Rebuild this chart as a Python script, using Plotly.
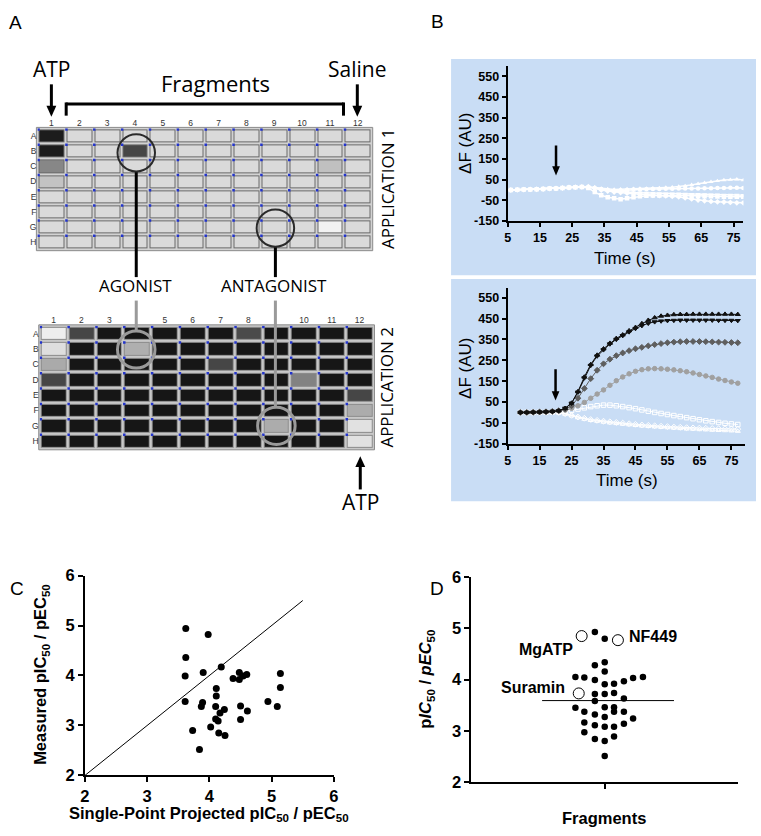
import plotly.graph_objects as go
import numpy as np

W, H = 761, 836


def fx(p):
    return p / W


def fy(p):
    return 1 - p / H


def dom_x(a, b):
    return [a / W, b / W]


def dom_y(top, bottom):
    return [1 - bottom / H, 1 - top / H]


ARIAL = "Liberation Sans"
MYRIAD = "Open Sans"

# ---------------- Panel A : plate read-outs (well brightness 0-255) ----------------
plate_cols = [1, 2, 3, 4, 5, 6, 7, 8, 9, 10, 11, 12]
plate_rows = ["A", "B", "C", "D", "E", "F", "G", "H"]
plate1_label_cols = [1, 2, 3, 4, 5, 6, 7, 8, 9, 10, 11, 12]
plate2_label_cols = [1, 2, 3, 5, 6, 7, 8, 10, 11, 12]

plate1_signal = [
    [28, 218, 218, 218, 218, 218, 218, 218, 218, 218, 218, 218],
    [28, 218, 218, 70, 218, 218, 218, 218, 218, 218, 218, 218],
    [135, 218, 218, 218, 218, 218, 218, 218, 218, 218, 192, 218],
    [195, 218, 218, 218, 218, 218, 218, 218, 218, 218, 218, 218],
    [218, 218, 218, 218, 218, 218, 218, 218, 218, 218, 218, 218],
    [218, 218, 218, 218, 218, 218, 218, 218, 218, 218, 218, 218],
    [218, 218, 218, 218, 218, 218, 218, 218, 218, 218, 242, 218],
    [218, 218, 218, 218, 218, 218, 218, 218, 218, 218, 218, 218],
]
plate2_signal = [
    [238, 70, 22, 22, 22, 22, 22, 75, 22, 22, 22, 22],
    [222, 22, 22, 175, 22, 22, 22, 22, 22, 22, 22, 22],
    [170, 22, 22, 22, 22, 22, 70, 22, 22, 22, 22, 22],
    [70, 22, 22, 22, 22, 22, 22, 22, 22, 130, 22, 22],
    [22, 22, 22, 22, 22, 22, 22, 22, 22, 22, 22, 70],
    [22, 22, 22, 22, 22, 22, 22, 22, 22, 22, 22, 172],
    [22, 22, 22, 22, 22, 22, 22, 22, 172, 22, 22, 225],
    [22, 22, 22, 22, 22, 22, 22, 22, 22, 22, 22, 225],
]

# ---------------- Panel B : fluorescence traces ----------------
time_app1 = [6, 8, 10, 12, 14, 16, 18, 20, 22, 24, 26, 28, 30, 32, 34, 36, 38, 40, 42,
             44, 46, 48, 50, 52, 54, 56, 58, 60, 62, 64, 66, 68, 70, 72, 74, 76, 78]
app1_well1 = [0, 1, 2, 3, 4, 5, 7, 8, 10, 12, 14, 15, 15, 12, 8, 5, 3, 4, 5, 6,
              7, 8, 9, 10, 12, 14, 17, 20, 25, 30, 35, 40, 44, 48, 50, 52, 48]
app1_well2 = [0, 1, 2, 3, 4, 5, 7, 8, 10, 12, 14, 15, 14, 10, 5, 0, -3, -2, 0, 2,
              3, 4, 5, 5, 6, 6, 7, 7, 8, 8, 9, 9, 10, 10, 11, 11, 10]
app1_well3 = [0, 1, 2, 3, 4, 5, 7, 8, 10, 12, 14, 15, 10, -10, -25, -35, -40, -45, -40, -35,
              -30, -28, -27, -26, -25, -25, -26, -27, -28, -29, -30, -30, -31, -32, -32, -33, -32]
app1_well4 = [0, 1, 2, 3, 4, 5, 7, 8, 10, 12, 14, 15, 16, 10, 0, -5, -10, -12, -15, -18,
              -20, -22, -25, -27, -28, -30, -33, -38, -43, -48, -52, -55, -57, -58, -60, -62, -62]
app1_well5 = [0, 1, 2, 3, 4, 5, 7, 8, 10, 12, 14, 16, 15, 8, 2, -2, -5, -8, -10, -12,
              -13, -14, -15, -16, -17, -17, -18, -19, -20, -20, -21, -22, -22, -23, -23, -24, -25]

time_app2 = [9, 11, 13, 15, 17, 19, 21, 23, 25, 27, 29, 31, 33, 35, 37, 39, 41, 43,
             45, 47, 49, 51, 53, 55, 57, 59, 61, 63, 65, 67, 69, 71, 73, 75, 77]
app2_full1 = [0, 0, 1, 2, 3, 5, 8, 20, 45, 100, 170, 230, 275, 305, 332, 355, 372, 392,
              408, 426, 442, 454, 462, 466, 469, 470, 470, 471, 471, 471, 471, 471, 471, 471, 470]
app2_full2 = [0, 0, 1, 2, 3, 5, 8, 20, 44, 97, 165, 225, 270, 300, 328, 350, 368, 386,
              402, 416, 427, 434, 438, 440, 441, 442, 442, 442, 442, 442, 442, 441, 441, 441, 440]
app2_partial = [0, 0, 1, 2, 3, 5, 8, 15, 32, 68, 115, 162, 202, 233, 255, 272, 285, 296,
                305, 312, 319, 325, 330, 334, 337, 339, 340, 340, 340, 339, 338, 337, 336, 335, 334]
app2_weak = [0, 0, 1, 2, 3, 5, 8, 12, 20, 32, 48, 68, 88, 108, 130, 152, 170, 185,
             197, 205, 209, 210, 209, 207, 204, 200, 195, 189, 182, 175, 168, 160, 153, 146, 140]
app2_blocked1 = [0, 0, 0, 1, 1, 2, 2, 5, 10, 16, 22, 28, 32, 35, 35, 32, 28, 23,
                 18, 12, 6, 0, -5, -10, -15, -20, -25, -30, -35, -40, -44, -48, -52, -55, -58]
app2_blocked2 = [0, 0, 0, 1, 1, 2, 0, -6, -14, -22, -28, -34, -38, -42, -45, -48, -51, -54,
                 -57, -60, -62, -64, -66, -68, -70, -71, -73, -74, -75, -76, -77, -78, -78, -79, -80]
app2_blocked3 = [0, 0, 0, 1, 1, 2, 0, -8, -16, -25, -32, -38, -42, -46, -50, -53, -56, -59,
                 -62, -65, -67, -69, -71, -73, -75, -77, -79, -80, -82, -83, -85, -86, -87, -88, -90]
injection_time = [20]
arrow_app1 = [215, 70]
arrow_app2 = [207, 57]
b_xticks = [5, 15, 25, 35, 45, 55, 65, 75]
b_yticks = [-150, -50, 50, 150, 250, 350, 450, 550]

# ---------------- Panel C : projected vs measured ----------------
projected = [3.62, 3.98, 3.62, 3.61, 3.90, 4.19, 3.61, 4.11, 4.11, 3.89, 3.87, 4.10,
             4.24, 4.17, 4.10, 4.14, 4.02, 3.73, 4.15, 4.25, 3.84, 4.38, 4.48, 4.48,
             4.54, 4.60, 4.50, 4.50, 4.61, 4.94, 5.09, 5.14, 5.14]
measured = [4.94, 4.82, 4.36, 3.99, 4.06, 4.17, 3.48, 3.74, 3.59, 3.46, 3.38, 3.38,
            3.32, 3.25, 3.13, 3.09, 2.97, 2.90, 2.85, 2.80, 2.52, 3.94, 4.06, 3.92,
            3.99, 4.02, 3.39, 3.12, 3.29, 3.48, 3.38, 4.04, 3.76]
identity_x = [2, 5.5]
identity_y = [2, 5.5]
cd_ticks = [2, 3, 4, 5, 6]

# ---------------- Panel D : fragment potencies ----------------
frag_x = [-0.074, 0, -0.074, 0, 0, -0.22, -0.153, -0.074, 0, 0.07, 0.144, 0.213, 0.287,
          -0.074, 0, 0.07, 0.144, -0.074, -0.22, 0, 0.07, 0.07, -0.153, 0.144, -0.074,
          0, 0.213, -0.153, -0.074, 0, 0.07, 0.144, -0.153, -0.074, 0.07, 0, 0]
frag_y = [4.93, 4.80, 4.28, 4.34, 4.16, 4.05, 4.04, 3.99, 3.91, 3.92, 3.97, 4.03, 4.05,
          3.72, 3.72, 3.74, 3.63, 3.58, 3.45, 3.46, 3.46, 3.37, 3.37, 3.37, 3.32,
          3.27, 3.24, 3.16, 3.11, 3.08, 3.08, 3.14, 2.97, 2.84, 2.89, 2.80, 2.51]
ref_names = ["MgATP", "NF449", "Suramin"]
ref_x = [-0.173, 0.099, -0.195]
ref_y = [4.85, 4.77, 3.73]
mean_x = [-0.47, 0.52]
mean_y = [3.59, 3.59]


def bold(vals):
    return ["<b>" + str(v) + "</b>" for v in vals]


fig = go.Figure()

# ---- plates ----
row_idx = list(range(1, len(plate_rows) + 1))
gx, gy = np.meshgrid(plate_cols, row_idx)
for sig, xa, ya, border in [(plate1_signal, "x", "y", "#6a6a6a"), (plate2_signal, "x2", "y2", "#8c8c8c")]:
    fig.add_trace(go.Heatmap(x=plate_cols, y=row_idx, z=np.ones((8, 12)),
                             colorscale=[[0, border], [1, border]], showscale=False,
                             xgap=2, ygap=2, hoverinfo="skip", xaxis=xa, yaxis=ya))
    fig.add_trace(go.Heatmap(x=plate_cols, y=row_idx, z=sig,
                             colorscale=[[0, "#000000"], [1, "#ffffff"]], zmin=0, zmax=255,
                             showscale=False, xgap=4, ygap=4, hoverinfo="skip", xaxis=xa, yaxis=ya))
    fig.add_trace(go.Scatter(x=(gx - 0.46).ravel(), y=(gy - 0.42).ravel(), mode="markers",
                             marker=dict(symbol="square", size=2.5, color="#2233cc"),
                             hoverinfo="skip", xaxis=xa, yaxis=ya))

# ---- panel B traces ----
white_syms = ["triangle-up", "circle", "square", "diamond", "triangle-down"]
for ys, s in zip([app1_well1, app1_well2, app1_well3, app1_well4, app1_well5], white_syms):
    fig.add_trace(go.Scatter(x=time_app1, y=ys, mode="lines+markers",
                             line=dict(color="white", width=1.5),
                             marker=dict(symbol=s, size=4.5, color="white"),
                             xaxis="x3", yaxis="y3"))

app2_specs = [
    (app2_blocked3, "white", "triangle-up-open"),
    (app2_blocked2, "white", "diamond-open"),
    (app2_blocked1, "white", "square-open"),
    (app2_weak, "#a0a0a0", "circle"),
    (app2_partial, "#5e5e5e", "diamond"),
    (app2_full2, "#111111", "triangle-down"),
    (app2_full1, "#111111", "triangle-up"),
]
for ys, col, s in app2_specs:
    fig.add_trace(go.Scatter(x=time_app2, y=ys, mode="lines+markers",
                             line=dict(color=col, width=1),
                             marker=dict(symbol=s, size=4.5, color=col, line=dict(width=1, color=col)),
                             xaxis="x4", yaxis="y4"))

# ---- panel C ----
fig.add_trace(go.Scatter(x=identity_x, y=identity_y, mode="lines",
                         line=dict(color="black", width=1), xaxis="x5", yaxis="y5"))
fig.add_trace(go.Scatter(x=projected, y=measured, mode="markers",
                         marker=dict(color="black", size=7), xaxis="x5", yaxis="y5"))

# ---- panel D ----
fig.add_trace(go.Scatter(x=mean_x, y=mean_y, mode="lines",
                         line=dict(color="black", width=1), xaxis="x6", yaxis="y6"))
fig.add_trace(go.Scatter(x=frag_x, y=frag_y, mode="markers",
                         marker=dict(color="black", size=6.5), xaxis="x6", yaxis="y6"))
fig.add_trace(go.Scatter(x=ref_x, y=ref_y, mode="markers",
                         marker=dict(color="white", size=11, line=dict(color="black", width=1)),
                         xaxis="x6", yaxis="y6"))

# ---------------- axes ----------------
plate_x = dict(range=[0.5, 12.5], side="top", tickmode="array",
               ticks="", showgrid=False, zeroline=False, showline=False,
               tickfont=dict(family=ARIAL, size=8.5, color="#333333"), fixedrange=True)
plate_y = dict(range=[8.5, 0.5], tickmode="array", tickvals=row_idx, ticktext=plate_rows,
               ticks="", showgrid=False, zeroline=False, showline=False,
               tickfont=dict(family=ARIAL, size=8.5, color="#333333"), fixedrange=True)

b_axis = dict(showline=True, linecolor="black", linewidth=2, ticks="outside", ticklen=4,
              tickwidth=1.5, tickcolor="black", showgrid=False, zeroline=False,
              tickfont=dict(family=ARIAL, size=12.5, color="black", weight="bold"))
cd_axis = dict(showline=True, linecolor="black", linewidth=2, ticks="outside", ticklen=5,
               tickwidth=2, tickcolor="black", showgrid=False, zeroline=False,
               tickfont=dict(family=ARIAL, size=16.5, color="black", weight="bold"))

fig.update_layout(
    width=W, height=836, margin=dict(l=0, r=0, t=0, b=0),
    paper_bgcolor="white", plot_bgcolor="rgba(0,0,0,0)", showlegend=False,
    xaxis=dict(plate_x, domain=dom_x(32.9, 371.6), anchor="y",
               tickvals=plate1_label_cols, ticktext=[str(c) for c in plate1_label_cols]),
    yaxis=dict(plate_y, domain=dom_y(122, 246), anchor="x"),
    xaxis2=dict(plate_x, domain=dom_x(35.2, 373.4), anchor="y2",
                tickvals=plate2_label_cols, ticktext=[str(c) for c in plate2_label_cols]),
    yaxis2=dict(plate_y, domain=dom_y(323.8, 449.5), anchor="x2"),
    xaxis3=dict(b_axis, domain=dom_x(509.3, 748.3), range=[5, 78.06], tickvals=b_xticks,
                ticktext=bold(b_xticks), anchor="y3"),
    yaxis3=dict(b_axis, domain=dom_y(58.3, 216.7), range=[-150, 600], tickvals=b_yticks,
                ticktext=bold(b_yticks), anchor="x3"),
    xaxis4=dict(b_axis, domain=dom_x(509.3, 750), range=[5, 79.3], tickvals=b_xticks,
                ticktext=bold(b_xticks), anchor="y4"),
    yaxis4=dict(b_axis, domain=dom_y(285, 444.3), range=[-150, 597], tickvals=b_yticks,
                ticktext=bold(b_yticks), anchor="x4"),
    xaxis5=dict(cd_axis, domain=dom_x(81, 333.3), range=[2, 6], tickvals=cd_ticks,
                ticktext=bold(cd_ticks), anchor="y5"),
    yaxis5=dict(cd_axis, domain=dom_y(579, 783.3), range=[2, 6], tickvals=cd_ticks,
                ticktext=bold(cd_ticks), anchor="x5"),
    xaxis6=dict(cd_axis, domain=dom_x(472.7, 742.7), range=[-1, 1], tickvals=[0],
                showticklabels=False, anchor="y6"),
    yaxis6=dict(cd_axis, domain=dom_y(580.7, 790), range=[2, 6], tickvals=cd_ticks,
                ticktext=bold(cd_ticks), anchor="x6"),
)

# ---------------- shapes ----------------
shapes = []
shapes.append(dict(type="rect", xref="paper", yref="paper", layer="below",
                   x0=fx(452), x1=fx(761), y0=fy(272), y1=fy(51),
                   fillcolor="#c9ddf5", line=dict(width=0)))
shapes.append(dict(type="rect", xref="paper", yref="paper", layer="below",
                   x0=fx(452), x1=fx(761), y0=fy(503), y1=fy(276),
                   fillcolor="#c9ddf5", line=dict(width=0)))
shapes.append(dict(type="rect", xref="paper", yref="paper", layer="below",
                   x0=fx(31.8), x1=fx(372.6), y0=fy(247), y1=fy(121),
                   fillcolor="#d2d2d2", line=dict(color="#8a8a8a", width=1)))
shapes.append(dict(type="rect", xref="paper", yref="paper", layer="below",
                   x0=fx(34.2), x1=fx(374.4), y0=fy(450.5), y1=fy(322.8),
                   fillcolor="#c8c8c8", line=dict(color="#8a8a8a", width=1)))


def line(x0, y0, x1, y1, color, width):
    return dict(type="line", xref="paper", yref="paper", x0=fx(x0), x1=fx(x1),
                y0=fy(y0), y1=fy(y1), line=dict(color=color, width=width))


def circ(cx, cy, r, color, width):
    return dict(type="circle", xref="paper", yref="paper", x0=fx(cx - r), x1=fx(cx + r),
                y0=fy(cy + r), y1=fy(cy - r), line=dict(color=color, width=width))


def arrow(x, y_tail, y_head, width=3, head_w=10, head_l=11):
    d = 1 if y_head > y_tail else -1
    base = y_head - d * head_l
    out = [line(x, y_tail, x, base + d * 1, "black", width)]
    path = "M {} {} L {} {} L {} {} Z".format(fx(x - head_w / 2), fy(base), fx(x + head_w / 2),
                                             fy(base), fx(x), fy(y_head))
    out.append(dict(type="path", xref="paper", yref="paper", path=path,
                    fillcolor="black", line=dict(width=0)))
    return out


shapes.append(line(62, 97, 343, 97, "black", 3))
shapes.append(line(62, 95.5, 62, 109, "black", 3))
shapes.append(line(343, 95.5, 343, 109, "black", 3))
shapes.append(line(133, 166, 133, 274, "black", 3))
shapes.append(line(274, 243, 274, 274, "black", 3))
shapes.append(line(133, 298, 133, 329, "#9a9a9a", 3))
shapes.append(line(274, 298, 274, 407, "#9a9a9a", 3))
shapes.append(circ(133, 147, 19, "#2a2a2a", 2))
shapes.append(circ(274, 224, 19, "#2a2a2a", 2))
shapes.append(circ(133, 348, 19, "#9a9a9a", 3))
shapes.append(circ(275, 426, 19, "#9a9a9a", 3))
shapes += arrow(47, 77, 110)
shapes += arrow(357, 77, 110)
shapes += arrow(360, 491, 457)

# panel B injection arrows (data coordinates of the injection time)
for xa, ya, vals, hl in [("x3", "y3", arrow_app1, 45), ("x4", "y4", arrow_app2, 45)]:
    t = injection_time[0]
    head_base = vals[1] + hl
    shapes.append(dict(type="line", xref=xa, yref=ya, x0=t, x1=t, y0=vals[0], y1=head_base - 5,
                       line=dict(color="black", width=2.5)))
    shapes.append(dict(type="path", xref=xa, yref=ya,
                       path="M {} {} L {} {} L {} {} Z".format(t - 1.2, head_base, t + 1.2, head_base, t, vals[1]),
                       fillcolor="black", line=dict(width=0)))

fig.update_layout(shapes=shapes)

# ---------------- annotations ----------------
ann = []


def txt(x, y, s, size, family=MYRIAD, angle=0, weight="normal", xanchor="center", color="black"):
    ann.append(dict(x=fx(x), y=fy(y), xref="paper", yref="paper", text=s, showarrow=False,
                    textangle=angle, xanchor=xanchor, yanchor="middle",
                    font=dict(family=family, size=size, color=color, weight=weight)))


txt(11, 14, "A", 19, family=ARIAL)
txt(438, 13, "B", 19, family=ARIAL)
txt(12, 592, "C", 19, family=ARIAL)
txt(438, 592, "D", 19, family=ARIAL)

txt(47, 61, "ATP", 21)
txt(357, 61, "Saline", 21)
txt(213, 76, "Fragments", 22)
txt(387, 183, "APPLICATION 1", 17, angle=-90)
txt(387, 386, "APPLICATION 2", 17, angle=-90)
txt(132, 283, "AGONIST", 17)
txt(273, 283, "ANTAGONIST", 17)
txt(360, 504, "ATP", 21)

txt(466, 137, "ΔF (AU)", 17, family=ARIAL, angle=-90)
txt(466, 367, "ΔF (AU)", 17, family=ARIAL, angle=-90)
txt(628, 255, "Time (s)", 17, family=ARIAL)
txt(630, 482, "Time (s)", 17, family=ARIAL)

txt(207, 823, "<b>Single-Point Projected pIC<sub>50</sub> / pEC<sub>50</sub></b>", 16.5, family=ARIAL)
txt(37, 680, "<b>Measured pIC<sub>50</sub> / pEC<sub>50</sub></b>", 16.5, family=ARIAL, angle=-90)

txt(607, 827, "<b>Fragments</b>", 16.5, family=ARIAL)
txt(427, 685, "<b>p<i>IC</i><sub>50</sub> / <i>pEC</i><sub>50</sub></b>", 16.5, family=ARIAL, angle=-90)
label_shift = {"NF449": ("left", 9, 4), "MgATP": ("right", -7, -13), "Suramin": ("right", -12, 6)}
for name, x, y in zip(ref_names, ref_x, ref_y):
    anchor, xs, ys = label_shift[name]
    ann.append(dict(x=x, y=y, xref="x6", yref="y6", text="<b>" + name + "</b>", showarrow=False,
                    xanchor=anchor, xshift=xs, yshift=ys,
                    font=dict(family=ARIAL, size=16, color="black")))

fig.update_layout(annotations=ann)

fig.write_html("out.html", config={"displayModeBar": False},
               post_script="document.body.style.margin='0';document.body.style.overflow='hidden';")
